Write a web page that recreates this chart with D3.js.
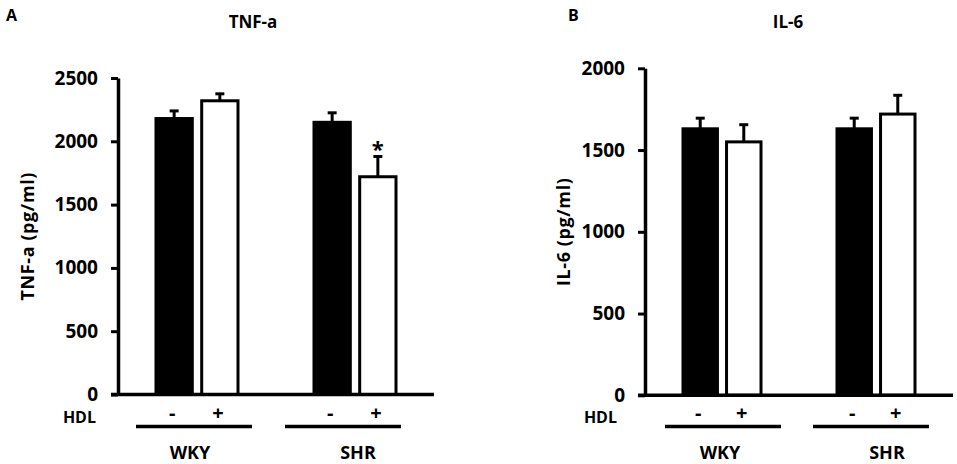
<!DOCTYPE html>
<html lang="en">
<head>
    <meta charset="UTF-8">
    <title>TNF-a and IL-6</title>
    <script src="https://d3js.org/d3.v7.min.js"></script>
    <style>
        body {margin: 0; background: white;}
        text {font-family: "Open Sans", Lato, sans-serif; font-weight: bold; fill: black;}
    </style>
</head>
<body>
<script>
    const width = 957;
    const height = 464;

    // data (order: WKY -, WKY +, SHR -, SHR +)
    const groups   = ["WKY", "SHR"];
    const hdl      = ["-", "+"];
    const tnfMean  = [2180, 2320, 2150, 1720];
    const tnfErr   = [60, 55, 75, 160];
    const tnfSig   = [false, false, false, true];
    const tnfTicks = [0, 500, 1000, 1500, 2000, 2500];
    const il6Mean  = [1630, 1550, 1630, 1720];
    const il6Err   = [65, 105, 65, 115];
    const il6Sig   = [false, false, false, false];
    const il6Ticks = [0, 500, 1000, 1500, 2000];

    const svg = d3.select("body").append("svg")
            .attr("width", width).attr("height", height);

    const panels = [
        {letter: "A", letterX: 6, title: "TNF-a", titleX: 253, yLabel: "TNF-a (pg/ml)", yLabelX: 34,
         mean: tnfMean, err: tnfErr, sig: tnfSig, ticks: tnfTicks,
         xRange: [118, 434], yRange: [394.5, 78], groupWidth: 85, hdlX: 96,
         lineShift: [-3, -12], nameShift: [-7, 3]},
        {letter: "B", letterX: 568, title: "IL-6", titleX: 788, yLabel: "IL-6 (pg/ml)", yLabelX: 570,
         mean: il6Mean, err: il6Err, sig: il6Sig, ticks: il6Ticks,
         xRange: [645, 953], yRange: [395.3, 68.3], groupWidth: 81, hdlX: 617,
         lineShift: [1, -5], nameShift: [-2, 11]}
    ];

    panels.forEach(drawPanel);

    function drawPanel(p) {
        const g = svg.append("g");
        const yMax = p.ticks[p.ticks.length - 1];

        const y = d3.scaleLinear().domain([0, yMax]).range(p.yRange);
        const xg = d3.scaleBand().domain(groups).range(p.xRange);

        // one inner band scale per group
        const inner = groups.map(grp => {
            const c = xg(grp) + xg.bandwidth() / 2;
            return d3.scaleBand().domain(hdl)
                    .range([c - p.groupWidth / 2, c + p.groupWidth / 2])
                    .paddingInner(0.14);
        });

        const rows = [];
        groups.forEach((grp, gi) => hdl.forEach((h, hi) => {
            const i = gi * hdl.length + hi;
            rows.push({grp: grp, gi: gi, h: h, hi: hi,
                mean: p.mean[i], err: p.err[i], sig: p.sig[i]});
        }));
        const bx = d => inner[d.gi](d.h);
        const bw = inner[0].bandwidth();

        // panel letter and title
        g.append("text").attr("x", p.letterX).attr("y", 21)
                .style("font-size", "16px").text(p.letter);
        g.append("text").attr("x", p.titleX).attr("y", 28)
                .attr("text-anchor", "middle")
                .style("font-size", "17px").text(p.title);

        // y axis
        const yAxis = g.append("g")
                .attr("transform", "translate(" + p.xRange[0] + ",0)")
                .call(d3.axisLeft(y).tickValues(p.ticks).tickFormat(d3.format("d"))
                        .tickSize(7).tickSizeOuter(0).tickPadding(13));
        yAxis.select(".domain").style("stroke", "black").style("stroke-width", 3.5);
        yAxis.selectAll(".tick line").style("stroke", "black").style("stroke-width", 3);
        yAxis.selectAll(".tick text")
                .style("font-size", "19px")
                .style("font-family", "'Open Sans', sans-serif")
                .style("font-weight", "bold");

        g.append("text")
                .attr("transform", "translate(" + p.yLabelX + "," + (p.yRange[0] + p.yRange[1]) / 2 + ") rotate(-90)")
                .attr("text-anchor", "middle")
                .style("font-size", "18px")
                .style("letter-spacing", "0.6px")
                .text(p.yLabel);

        // error bars (upper only)
        const eb = g.selectAll("g.err").data(rows).enter().append("g").attr("class", "err");
        eb.append("line")
                .attr("x1", d => bx(d) + bw / 2).attr("x2", d => bx(d) + bw / 2)
                .attr("y1", d => y(d.mean)).attr("y2", d => y(d.mean + d.err))
                .style("stroke", "black").style("stroke-width", 3);
        eb.append("line")
                .attr("x1", d => bx(d) + bw / 2 - 4.5).attr("x2", d => bx(d) + bw / 2 + 4.5)
                .attr("y1", d => y(d.mean + d.err)).attr("y2", d => y(d.mean + d.err))
                .style("stroke", "black").style("stroke-width", 3);

        // bars
        g.selectAll("rect.bar").data(rows).enter().append("rect")
                .attr("class", "bar")
                .attr("x", d => bx(d) + 1.5)
                .attr("width", bw - 3)
                .attr("y", d => y(d.mean))
                .attr("height", d => y(0) - y(d.mean))
                .style("fill", d => d.hi === 0 ? "black" : "white")
                .style("stroke", "black")
                .style("stroke-width", 3);

        // significance marks
        g.selectAll("text.sig").data(rows.filter(d => d.sig)).enter().append("text")
                .attr("class", "sig")
                .attr("x", d => bx(d) + bw / 2)
                .attr("y", d => y(d.mean + d.err) + 1)
                .attr("text-anchor", "middle")
                .style("font-size", "22px").text("*");

        // baseline
        g.append("line")
                .attr("x1", p.xRange[0] - 7).attr("x2", p.xRange[1])
                .attr("y1", y(0)).attr("y2", y(0))
                .style("stroke", "black").style("stroke-width", 3.5);

        // HDL row
        g.append("text").attr("x", p.hdlX).attr("y", 422.5)
                .attr("text-anchor", "end")
                .style("font-size", "16px").text("HDL");
        g.selectAll("text.hdl").data(rows).enter().append("text")
                .attr("class", "hdl")
                .attr("x", d => bx(d) + bw / 2 - 2)
                .attr("y", 420)
                .attr("text-anchor", "middle")
                .style("font-size", "20px").text(d => d.h);

        // group lines and names
        groups.forEach((grp, gi) => {
            const c = xg(grp) + xg.bandwidth() / 2;
            g.append("line")
                    .attr("x1", c + p.lineShift[gi] - 58).attr("x2", c + p.lineShift[gi] + 58)
                    .attr("y1", 426.5).attr("y2", 426.5)
                    .style("stroke", "black").style("stroke-width", 3.5);
            g.append("text")
                    .attr("x", c + p.nameShift[gi]).attr("y", 459)
                    .attr("text-anchor", "middle")
                    .style("font-size", "18px").text(grp);
        });
    }
</script>
</body>
</html>
